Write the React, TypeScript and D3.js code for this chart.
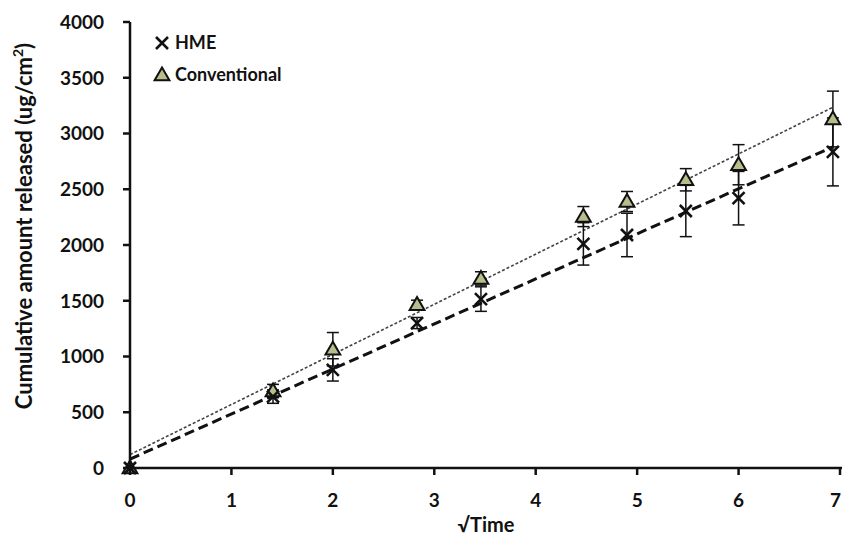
import React from "react";
import * as d3 from "d3";

const W = 842;
const H = 537;
const MARGIN = { top: 22, right: 2, bottom: 69, left: 130 };

// √time points (h^0.5)
const sqrtTime = [0, 1.41, 2, 2.83, 3.46, 4.47, 4.9, 5.48, 6, 6.93];
const hmeValues = [0, 640, 880, 1300, 1515, 2010, 2090, 2305, 2420, 2835];
const hmeErrors = [0, 60, 100, 50, 110, 190, 195, 230, 240, 305];
const convValues = [0, 690, 1065, 1465, 1700, 2255, 2390, 2585, 2720, 3130];
const convErrors = [0, 60, 150, 40, 60, 90, 90, 100, 180, 250];

// linear trend lines, read at both ends
const trendX = [0, 6.93];
const hmeTrend = [80, 2880];
const convTrend = [120, 3235];

const xTicks = [0, 1, 2, 3, 4, 5, 6, 7];
const yTicks = [0, 500, 1000, 1500, 2000, 2500, 3000, 3500, 4000];

const FONT = "Lato, 'Open Sans', sans-serif";

const App = () => {
  const x = d3.scaleLinear().domain([0, 7]).range([MARGIN.left, W - MARGIN.right]);
  const y = d3.scaleLinear().domain([0, 4000]).range([H - MARGIN.bottom, MARGIN.top]);

  const line = d3
    .line<[number, number]>()
    .x((d) => x(d[0]))
    .y((d) => y(d[1]));

  const hmePts = sqrtTime.map((t, i) => ({ t, v: hmeValues[i], e: hmeErrors[i] }));
  const convPts = sqrtTime.map((t, i) => ({ t, v: convValues[i], e: convErrors[i] }));

  const cap = 6;
  const errBar = (p: { t: number; v: number; e: number }, key: string) =>
    p.e > 0 ? (
      <g key={key} stroke="#111" strokeWidth={1.5}>
        <line x1={x(p.t)} x2={x(p.t)} y1={y(p.v - p.e)} y2={y(p.v + p.e)} />
        <line x1={x(p.t) - cap} x2={x(p.t) + cap} y1={y(p.v - p.e)} y2={y(p.v - p.e)} />
        <line x1={x(p.t) - cap} x2={x(p.t) + cap} y1={y(p.v + p.e)} y2={y(p.v + p.e)} />
      </g>
    ) : null;

  const cross = (cx: number, cy: number, key: string) => (
    <path
      key={key}
      d={`M${cx - 6},${cy - 6}L${cx + 6},${cy + 6}M${cx - 6},${cy + 6}L${cx + 6},${cy - 6}`}
      stroke="#111"
      strokeWidth={2.6}
      fill="none"
    />
  );
  const tri = d3.symbol().type(d3.symbolTriangle).size(95);
  const triangle = (cx: number, cy: number, key: string) => (
    <path
      key={key}
      d={tri() as string}
      transform={`translate(${cx},${cy + 1})`}
      fill="#b9bd8c"
      stroke="#111"
      strokeWidth={2}
    />
  );

  return (
    <div style={{ position: "absolute", left: 0, top: 0 }}>
      <svg width={W} height={H} style={{ display: "block", background: "#fff" }}>
        {/* trend lines */}
        <path
          d={line(trendX.map((t, i) => [t, convTrend[i]]) as [number, number][]) as string}
          fill="none"
          stroke="#444"
          strokeWidth={1.6}
          strokeDasharray="3,2"
        />
        <path
          d={line(trendX.map((t, i) => [t, hmeTrend[i]]) as [number, number][]) as string}
          fill="none"
          stroke="#111"
          strokeWidth={3}
          strokeDasharray="10,5"
        />

        {/* error bars */}
        {convPts.map((p, i) => errBar(p, "ce" + i))}
        {hmePts.map((p, i) => errBar(p, "he" + i))}

        {/* markers */}
        {convPts.map((p, i) => triangle(x(p.t), y(p.v), "ct" + i))}
        {hmePts.map((p, i) => cross(x(p.t), y(p.v), "hx" + i))}

        {/* axes */}
        <g stroke="#111" strokeWidth={2.5}>
          <line x1={x(0)} x2={x(0)} y1={y(4000)} y2={y(0)} />
          <line x1={x(0)} x2={W} y1={y(0)} y2={y(0)} />
          {yTicks.map((t) => (
            <line key={"yt" + t} x1={x(0) - 7} x2={x(0)} y1={y(t)} y2={y(t)} />
          ))}
          {xTicks.map((t) => (
            <line key={"xt" + t} x1={x(t)} x2={x(t)} y1={y(0)} y2={y(0) + 7} />
          ))}
        </g>
        <g fontFamily={FONT} fontWeight="bold" fontSize={19} fill="#111">
          {yTicks.map((t) => (
            <text key={"yl" + t} x={x(0) - 26} y={y(t)} dy="0.36em" textAnchor="end">
              {t}
            </text>
          ))}
          {xTicks.map((t) => (
            <text key={"xl" + t} x={t === 7 ? W - 1 : x(t)} y={y(0) + 39} textAnchor={t === 7 ? "end" : "middle"}>
              {t}
            </text>
          ))}
          <text x={486} y={532} textAnchor="middle" fontSize={20}>
            √Time
          </text>
          <text transform="translate(32,226) rotate(-90)" textAnchor="middle" fontSize={22}>
            Cumulative amount released (ug/cm
            <tspan dy={-9} fontSize={14}>2</tspan>
            <tspan dy={9}>)</tspan>
          </text>
        </g>

        {/* legend */}
        <g fontFamily={FONT} fontWeight="bold" fontSize={18} fill="#111">
          {cross(162, 43, "lg1")}
          <text x={175} y={43} dy="0.36em">HME</text>
          {triangle(162, 75, "lg2")}
          <text x={175} y={75} dy="0.36em">Conventional</text>
        </g>
      </svg>
    </div>
  );
};

export default App;
